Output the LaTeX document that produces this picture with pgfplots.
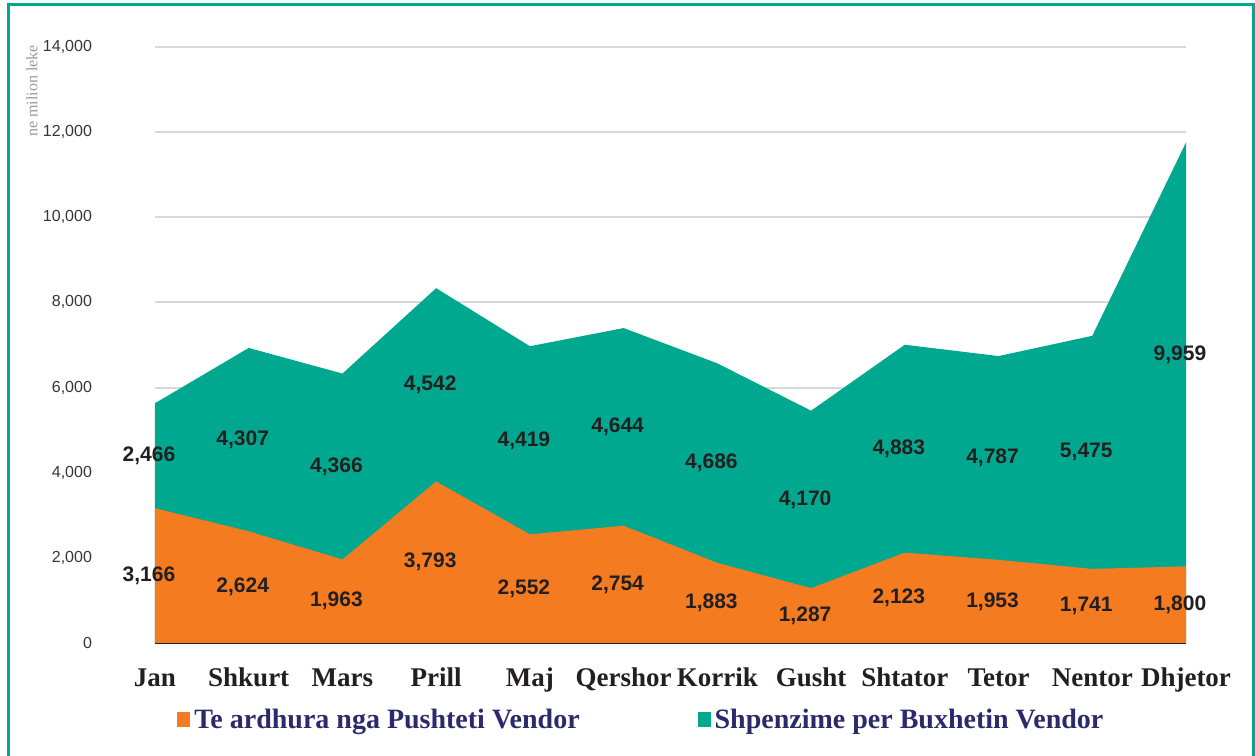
\documentclass[border=0pt]{standalone}
\usepackage{fontspec}
\setmainfont{Liberation Serif}
\newfontfamily\ticksans{Liberation Sans}
\usepackage{pgfplots}
\pgfplotsset{compat=1.18}
\usepackage{pgfplotstable}

\definecolor{orng}{HTML}{F47B20}
\definecolor{tealc}{HTML}{00A88F}
\definecolor{gridgray}{HTML}{D9D9D9}
\definecolor{navy}{HTML}{2B2A6B}
\definecolor{ink}{HTML}{231F20}

% a = Te ardhura nga Pushteti Vendor, b = Shpenzime per Buxhetin Vendor
\pgfplotstableread{
x a b
0 3166 2466
1 2624 4307
2 1963 4366
3 3793 4542
4 2552 4419
5 2754 4644
6 1883 4686
7 1287 4170
8 2123 4883
9 1953 4787
10 1741 5475
11 1800 9959
}\data

\begin{document}
\begin{tikzpicture}
\useasboundingbox (0,0) rectangle (627.5pt,378pt);
\draw[tealc, line width=1.5pt] (4pt,-2pt) -- (4pt,375.5pt) -- (626.5pt,375.5pt) -- (626.5pt,-2pt);
\begin{axis}[
  at={(77.5pt,56.5pt)}, anchor=south west,
  scale only axis, width=515.5pt, height=298pt,
  xmin=0, xmax=11, ymin=0, ymax=14000,
  axis lines*=left,
  axis line style={-},
  y axis line style={draw=none},
  x axis line style={ink, line width=0.8pt},
  ymajorgrids, grid style={gridgray, line width=1pt},
  major tick length=0pt,
  ytick={0,2000,...,14000},
  scaled y ticks=false,
  /pgf/number format/fixed,
  /pgf/number format/precision=0,
  /pgf/number format/1000 sep={,},
  /pgf/number format/assume math mode=true,
  yticklabel style={font=\ticksans\fontsize{8pt}{8pt}\selectfont, text=ink!90, xshift=-28pt},
  xtick={0,...,11},
  xticklabels={Jan,Shkurt,Mars,Prill,Maj,Qershor,Korrik,Gusht,Shtator,Tetor,Nentor,Dhjetor},
  xticklabel style={font=\bfseries\fontsize{13.5pt}{13.5pt}\selectfont, text=ink, anchor=base, yshift=-22pt},
  ylabel={ne milion leke},
  ylabel style={at={(axis description cs:-0.1193,1.015)}, anchor=east, font=\fontsize{8pt}{8pt}\selectfont, text=gray!80},
  legend columns=2,
  reverse legend,
  legend style={at={(axis description cs:0.0213,-0.129)}, anchor=west, draw=none, fill=none, inner sep=0pt,
    font=\bfseries\fontsize{14pt}{14pt}\selectfont, text=navy,
    /tikz/every even column/.append style={column sep=57pt}},
  legend image code/.code={\fill[#1] (0pt,-3.75pt) rectangle (6.5pt,3.75pt);},
]
\addplot[fill=tealc, draw=none] table[x=x, y expr=\thisrow{a}+\thisrow{b}] {\data} \closedcycle;
\addlegendentry{Shpenzime per Buxhetin Vendor}
\addplot[fill=orng, draw=none] table[x=x, y=a] {\data} \closedcycle;
\addlegendentry{Te ardhura nga Pushteti Vendor}

\addplot[forget plot, draw=none, mark=none, nodes near coords, point meta=explicit,
  nodes near coords align=center,
  every node near coord/.append style={font=\ticksans\bfseries\fontsize{10.5pt}{10.5pt}\selectfont, text=ink, xshift=-3pt}]
  table[x=x, y expr=\thisrow{a}/2, meta=a] {\data};
\addplot[forget plot, draw=none, mark=none, nodes near coords, point meta=explicit,
  nodes near coords align=center,
  every node near coord/.append style={font=\ticksans\bfseries\fontsize{10.5pt}{10.5pt}\selectfont, text=ink, xshift=-3pt}]
  table[x=x, y expr=\thisrow{a}+\thisrow{b}/2, meta=b] {\data};
\end{axis}
\end{tikzpicture}
\end{document}
